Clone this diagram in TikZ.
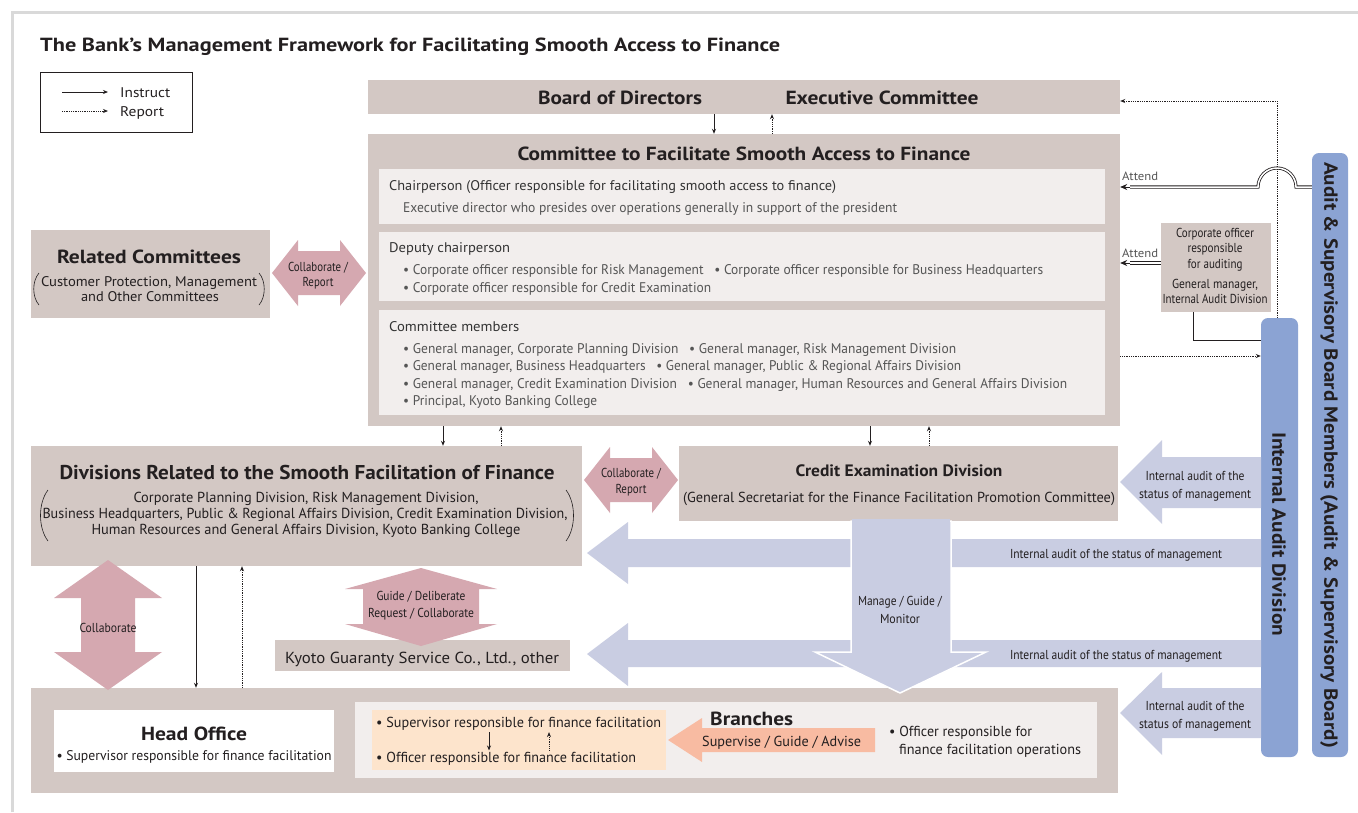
\documentclass[tikz,border=0pt]{standalone}
\usepackage{fontspec}
\setmainfont{PT Sans}
\usepackage{graphicx}
\usetikzlibrary{fit,arrows.meta,calc}
\definecolor{taupe}{HTML}{D3C8C4}
\definecolor{paleT}{HTML}{F2EEED}
\definecolor{pinkA}{HTML}{D5A8B0}
\definecolor{blueA}{HTML}{C9CDE2}
\definecolor{blueB}{HTML}{8BA3D3}
\definecolor{peach}{HTML}{FDE4CC}
\definecolor{salmon}{HTML}{F8BBA2}
\definecolor{frameG}{HTML}{D9D9D9}
\definecolor{ink}{HTML}{231F20}
\definecolor{inkB}{HTML}{333333}
\definecolor{inkC}{HTML}{555555}
\newlength\tw
\newcommand\fw[2]{\settowidth\tw{#2}\pgfmathsetmacro\fwr{#1/\tw}\scalebox{\fwr}[1]{#2}}
\newcommand\Tx[3]{{\fontsize{#1}{#1}\selectfont\fw{#2}{#3}}}
\newcommand\Tb[3]{{\bfseries\fontsize{#1}{#1}\selectfont\fw{#2}{#3}}}
\tikzset{
  box/.style={fill=taupe, inner sep=0pt, draw=none},
  pale/.style={fill=paleT, inner sep=0pt, draw=none},
  lbl/.style={anchor=base, inner sep=0pt, text=ink},
  lblw/.style={anchor=base west, inner sep=0pt, text=ink},
  instr/.style={draw=ink, line width=0.8pt, -{Stealth[length=5pt,width=4pt]}},
  rept/.style={draw=ink, line width=0.8pt, dash pattern=on 0.9pt off 0.9pt, -{Stealth[length=5pt,width=4pt]}},
  dbl/.style={draw=ink, line width=0.8pt, double=white, double distance=1.5pt},
  tipA/.style={draw=ink, line width=0.8pt, -{Stealth[length=7pt,width=6pt]}},
  pinkarrow/.style={fill=pinkA},
  bluearrow/.style={fill=blueA},
}
\begin{document}
\begin{tikzpicture}[x=1pt,y=-1pt]
\useasboundingbox (0,0) rectangle (1358,812);
\fill[white] (0,0) rectangle (1358,812);
\draw[frameG, line width=3pt] (12,812) -- (12,12) -- (1358,12);

% title
\node[lblw] (title) at (40,51) {\Tb{19}{740}{The Bank’s Management Framework for Facilitating Smooth Access to Finance}};

% legend
\node[draw=ink, line width=0.8pt, inner sep=0pt, fit={(40,72) (192,132)}] (leg) {};
\coordinate (l1a) at (62,92); \coordinate (l1b) at (108,92);
\coordinate (l2a) at (62,111); \coordinate (l2b) at (108,111);
\draw[instr] (l1a) -- (l1b);
\draw[rept] (l2a) -- (l2b);
\node[lblw] (legI) at (120,97) {\Tx{14}{50}{Instruct}};
\node[lblw] (legR) at (120,116) {\Tx{14}{44}{Report}};

% board
\node[box, fit={(368,80) (1120,114)}] (bod) {};
\node[lbl] (bodA) at (620,104) {\Tb{19}{164}{Board of Directors}};
\node[lbl] (bodB) at (882,104) {\Tb{19}{193}{Executive Committee}};

% committee
\node[box, fit={(368,134) (1120,426)}] (cfs) {};
\node[lbl] (cfsT) at (744,160) {\Tb{19}{453}{Committee to Facilitate Smooth Access to Finance}};
\node[pale, fit={(379,169) (1105,224)}] (chair) {};
\node[lblw, text=inkB] (chA) at (389,190) {\Tx{14}{447}{Chairperson (Officer responsible for facilitating smooth access to finance)}};
\node[lblw, text=inkC] (chB) at (403,212) {\Tx{14}{494}{Executive director who presides over operations generally in support of the president}};
\node[pale, fit={(379,232) (1105,301)}] (deputy) {};
\node[lblw, text=inkB] (dpA) at (389,252) {\Tx{14}{121}{Deputy chairperson}};
\node[lblw, text=inkC] (dpB) at (403,274) {\Tx{14}{640}{• Corporate officer responsible for Risk Management~~~• Corporate officer responsible for Business Headquarters}};
\node[lblw, text=inkC] (dpC) at (403,292) {\Tx{14}{308}{• Corporate officer responsible for Credit Examination}};
\node[pale, fit={(379,310) (1105,415)}] (members) {};
\node[lblw, text=inkB] (mbA) at (389,331) {\Tx{14}{130}{Committee members}};
\node[lblw, text=inkC] (mbB) at (403,353) {\Tx{14}{553}{• General manager, Corporate Planning Division~~~• General manager, Risk Management Division}};
\node[lblw, text=inkC] (mbC) at (403,370) {\Tx{14}{558}{• General manager, Business Headquarters~~~• General manager, Public \& Regional Affairs Division}};
\node[lblw, text=inkC] (mbD) at (403,388) {\Tx{14}{664}{• General manager, Credit Examination Division~~~• General manager, Human Resources and General Affairs Division}};
\node[lblw, text=inkC] (mbE) at (403,405) {\Tx{14}{194}{• Principal, Kyoto Banking College}};

\coordinate (a1) at (714,0); \coordinate (a2) at (772,0);
\draw[instr] (bod.south -| a1) -- (cfs.north -| a1);
\draw[rept] (cfs.north -| a2) -- (bod.south -| a2);

% related committees
\node[box, fit={(31,230) (270,318)}] (rel) {};
\node[lbl] (relT) at (149,263) {\Tb{19}{184}{Related Committees}};
\node[lbl] (relA) at (149,286) {\Tx{14}{216}{Customer Protection, Management}};
\node[lbl] (relB) at (150,301) {\Tx{14}{138}{and Other Committees}};
\draw[ink, line width=0.6pt] (39,273) .. controls (32,281) and (32,297) .. (39,305);
\draw[ink, line width=0.6pt] (259,273) .. controls (266,281) and (266,297) .. (259,305);

% pink arrow rel <-> committee
\fill[pinkarrow] (272,273) -- (298,240) -- (298,251) -- (340,251) -- (340,240) -- (366,273) -- (340,306) -- (340,295) -- (298,295) -- (298,306) -- cycle;
\node[lbl] (crA) at (318,271) {\Tx{13}{60}{Collaborate /}};
\node[lbl] (crB) at (318,286) {\Tx{13}{31}{Report}};

% divisions
\node[box, fit={(31,446) (582,566)}] (div) {};
\node[lbl] (divT) at (307,479) {\Tb{20}{495}{Divisions Related to the Smooth Facilitation of Finance}};
\node[lbl] (divA) at (306,502) {\Tx{14.5}{345}{Corporate Planning Division, Risk Management Division,}};
\node[lbl] (divB) at (305,518) {\Tx{14.5}{525}{Business Headquarters, Public \& Regional Affairs Division, Credit Examination Division,}};
\node[lbl] (divC) at (306,534) {\Tx{14.5}{429}{Human Resources and General Affairs Division, Kyoto Banking College}};
\draw[ink, line width=0.6pt] (48,490) .. controls (38,503) and (38,528) .. (48,541);
\draw[ink, line width=0.6pt] (566,490) .. controls (576,503) and (576,528) .. (566,541);

% credit examination
\node[box, fit={(679,446) (1118,521)}] (ce) {};
\node[lbl] (ceT) at (899,476) {\Tb{16.5}{207}{Credit Examination Division}};
\node[lbl] (ceA) at (899,502) {\Tx{14.5}{432}{(General Secretariat for the Finance Facilitation Promotion Committee)}};

% pink arrow div <-> ce
\fill[pinkarrow] (584,480) -- (610,447) -- (610,458) -- (652,458) -- (652,447) -- (678,480) -- (652,513) -- (652,502) -- (610,502) -- (610,513) -- cycle;
\node[lbl] (cr2A) at (631,477) {\Tx{13}{60}{Collaborate /}};
\node[lbl] (cr2B) at (631,493) {\Tx{13}{31}{Report}};

\coordinate (a3) at (443,0); \coordinate (a4) at (501,0);
\coordinate (a5) at (870,0); \coordinate (a6) at (929,0);
\draw[instr] (cfs.south -| a3) -- (div.north -| a3);
\draw[rept] (div.north -| a4) -- (cfs.south -| a4);
\draw[instr] (cfs.south -| a5) -- (ce.north -| a5);
\draw[rept] (ce.north -| a6) -- (cfs.south -| a6);

% Kyoto guaranty
\node[box, fit={(275,640) (570,671)}] (kgs) {};
\node[lbl] (kgsT) at (422,663) {\Tx{16}{274}{Kyoto Guaranty Service Co., Ltd., other}};

% bottom box
\node[box, fit={(31,688) (1118,793)}] (bot) {};
\node[fill=white, inner sep=0pt, fit={(54,710) (334,772)}] (ho) {};
\node[lbl] (hoT) at (194,740) {\Tb{19}{106}{Head Office}};
\node[lbl] (hoA) at (194,760) {\Tx{14}{275}{• Supervisor responsible for finance facilitation}};
\node[pale, fit={(355,702) (1097,778)}] (br) {};
\node[fill=peach, inner sep=0pt, fit={(372,710) (666,770)}] (pch) {};
\node[lblw] (pchA) at (376,727) {\Tx{14.5}{285}{• Supervisor responsible for finance facilitation}};
\node[lblw] (pchB) at (376,762) {\Tx{14.5}{260}{• Officer responsible for finance facilitation}};
\coordinate (a7) at (489,0); \coordinate (a8) at (549,0);
\draw[instr] ($(pchA.south -| a7)+(0,2)$) -- ($(pchB.north -| a7)+(0,-1)$);
\draw[rept] ($(pchB.north -| a8)+(0,-1)$) -- ($(pchA.south -| a8)+(0,2)$);
\fill[salmon] (668,740) -- (702,718) -- (702,728) -- (875,728) -- (875,752) -- (702,752) -- (702,762) -- cycle;
\node[lblw] (brT) at (710,725) {\Tb{19}{83}{Branches}};
\node[lblw] (sga) at (702,746) {\Tx{14.5}{159}{Supervise / Guide / Advise}};
\node[lblw] (ofA) at (889,736) {\Tx{14.5}{143}{• Officer responsible for}};
\node[lblw] (ofB) at (899,754) {\Tx{14.5}{182}{finance facilitation operations}};

% vertical collaborate arrow
\fill[pinkarrow] (108,560) -- (162,598) -- (135,598) -- (135,652) -- (162,652) -- (108,690) -- (54,652) -- (81,652) -- (81,598) -- (54,598) -- cycle;
\node[lbl] (colT) at (108,632) {\Tx{13}{57}{Collaborate}};
\coordinate (a9) at (196,0); \coordinate (a10) at (242,0);
\draw[instr] (div.south -| a9) -- (bot.north -| a9);
\draw[rept] (bot.north -| a10) -- (div.south -| a10);

% guide arrow
\fill[pinkarrow] (421,568) -- (497,589) -- (479,589) -- (479,624) -- (497,624) -- (421,646) -- (345,624) -- (363,624) -- (363,589) -- (345,589) -- cycle;
\node[lbl] (gdA) at (421,600) {\Tx{13}{89}{Guide / Deliberate}};
\node[lbl] (gdB) at (421,617) {\Tx{13}{106}{Request / Collaborate}};

% audit bars
\node[fill=blueB, rounded corners=7pt, inner sep=0pt, fit={(1261,318) (1298,757)}] (iad) {};
\node[fill=blueB, rounded corners=7pt, inner sep=0pt, fit={(1312,153) (1348,757)}] (asb) {};
\node[rotate=-90, inner sep=0pt, text=ink] (asbT) at (1329,455) {\Tb{19}{586}{Audit \& Supervisory Board Members (Audit \& Supervisory Board)}};
\node[rotate=-90, inner sep=0pt, text=ink] (iadT) at (1279,534) {\Tb{19}{204}{Internal Audit Division}};

% blue arrows
\fill[bluearrow] (1120,482) -- (1162,440) -- (1162,457) -- (1261,457) -- (1261,508) -- (1162,508) -- (1162,524) -- cycle;
\node[lbl] (ia1A) at (1195,480) {\Tx{13}{99}{Internal audit of the}};
\node[lbl] (ia1B) at (1195,498) {\Tx{13}{112}{status of management}};
\fill[bluearrow] (587,553) -- (628,522) -- (628,539) -- (1261,539) -- (1261,567) -- (628,567) -- (628,584) -- cycle;
\node[lbl] (ia2) at (1116,558) {\Tx{13}{212}{Internal audit of the status of management}};
\fill[bluearrow] (587,654) -- (628,623) -- (628,640) -- (1261,640) -- (1261,667) -- (628,667) -- (628,686) -- cycle;
\node[lbl] (ia3) at (1116,659) {\Tx{13}{212}{Internal audit of the status of management}};
\fill[bluearrow] (1120,713) -- (1162,672) -- (1162,688) -- (1261,688) -- (1261,738) -- (1162,738) -- (1162,755) -- cycle;
\node[lbl] (ia4A) at (1195,710) {\Tx{13}{99}{Internal audit of the}};
\node[lbl] (ia4B) at (1195,728) {\Tx{13}{112}{status of management}};

% manage arrow
\filldraw[fill=blueA, draw=white, line width=1.5pt] (851,521) -- (951,521) -- (951,652) -- (986,652) -- (900,693) -- (815,652) -- (851,652) -- cycle;
\fill[blueA] (852,519) rectangle (950,523);
\node[lbl] (mgA) at (900,605) {\Tx{13}{84}{Manage / Guide /}};
\node[lbl] (mgB) at (900,623) {\Tx{13}{40}{Monitor}};

% corporate officer box
\node[box, fit={(1161,223) (1271,312)}] (corp) {};
\node[lbl] (coA) at (1215,237) {\Tx{13}{78}{Corporate officer}};
\node[lbl] (coB) at (1215,252) {\Tx{13}{55}{responsible}};
\node[lbl] (coC) at (1215,268) {\Tx{13}{55}{for auditing}};
\node[lbl] (coD) at (1215,288) {\Tx{13}{86}{General manager,}};
\node[lbl] (coE) at (1215,303) {\Tx{13}{105}{Internal Audit Division}};

% report line from internal audit to board
\coordinate (dl) at (1277,101);
\draw[rept] (iad.north -| dl) -- (dl) -- (bod.east |- dl);

% attend lines
\coordinate (y1) at (0,187); \coordinate (y1a) at (1296,187); \coordinate (y1b) at (1130,187);
\draw[dbl] (asb.west |- y1) -- (y1a) arc (0:-180:19) -- (y1b);
\draw[tipA] (y1b) -- (cfs.east |- y1);
\node[lblw, text=inkC] (att1) at (1122,180) {\Tx{12}{36}{Attend}};
\coordinate (y2) at (0,263); \coordinate (y2b) at (1130,263);
\draw[dbl] (corp.west |- y2) -- (y2b);
\draw[tipA] (y2b) -- (cfs.east |- y2);
\node[lblw, text=inkC] (att2) at (1122,257) {\Tx{12}{36}{Attend}};

\coordinate (cl) at (1193,340);
\draw[ink, line width=0.8pt] (corp.south -| cl) |- (iad.west |- cl);
\coordinate (dr) at (0,356);
\draw[rept] (cfs.east |- dr) -- (iad.west |- dr);
\end{tikzpicture}
\end{document}
